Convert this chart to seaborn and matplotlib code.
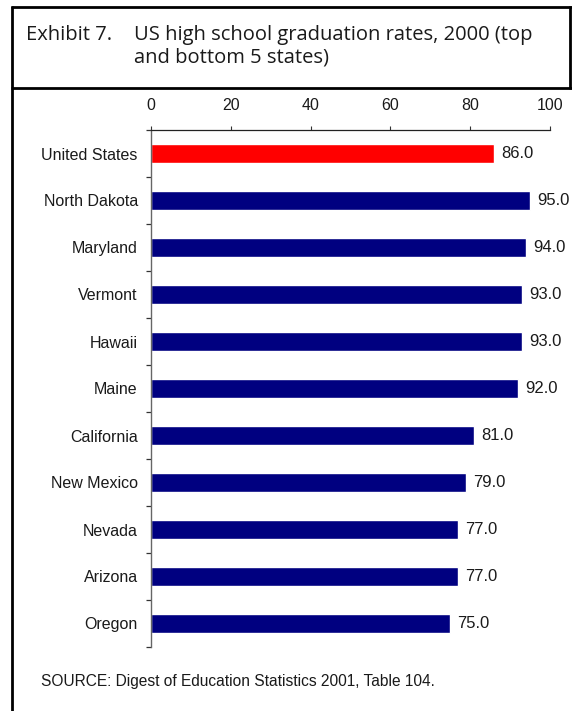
import matplotlib
matplotlib.use("Agg")
import matplotlib.pyplot as plt
import seaborn as sns
import pandas as pd
from matplotlib.lines import Line2D
from matplotlib.ticker import FixedLocator

# Dados
estados = ["United States", "North Dakota", "Maryland", "Vermont", "Hawaii", "Maine",
           "California", "New Mexico", "Nevada", "Arizona", "Oregon"]
taxas = [86.0, 95.0, 94.0, 93.0, 93.0, 92.0, 81.0, 79.0, 77.0, 77.0, 75.0]
x_ticks = [0, 20, 40, 60, 80, 100]

df = pd.DataFrame({"estado": estados, "taxa": taxas})
cores = {e: ("#FF0000" if e == "United States" else "#000080") for e in estados}

sns.set_style("white")
plt.rcParams["font.family"] = ["Liberation Sans", "DejaVu Sans"]

W, H = 572, 711
fig = plt.figure(figsize=(W / 100, H / 100), dpi=100)
ax = fig.add_axes([151 / W, 1 - 647 / H, 399 / W, 517 / H])

sns.barplot(data=df, x="taxa", y="estado", hue="estado", palette=cores,
            order=estados, legend=False, width=0.41, saturation=1, ax=ax)

# Rótulos de valor
for i, v in enumerate(taxas):
    ax.text(v + 1.8, i, f"{v:.1f}", va="center", ha="left", fontsize=12, color="#1a1a1a")

ax.set_xlim(0, 100)
ax.set_ylim(10.5, -0.5)
ax.set_xlabel("")
ax.set_ylabel("")
ax.set_xticks(x_ticks)
ax.tick_params(axis="x", top=True, labeltop=True, bottom=False, labelbottom=False,
               direction="out", length=3, width=0.8, color="#333333",
               labelsize=11.5, pad=9.5, labelcolor="#1a1a1a")
ax.tick_params(axis="y", which="major", left=True, length=0, labelsize=11.5, pad=9.5,
               labelcolor="#1a1a1a")
ax.yaxis.set_minor_locator(FixedLocator([i + 0.5 for i in range(-1, len(estados))]))
ax.tick_params(axis="y", which="minor", left=True, direction="out", length=3.5,
               width=0.9, color="#333333")

for s in ["bottom", "right"]:
    ax.spines[s].set_visible(False)
ax.spines["top"].set_color("#222222")
ax.spines["left"].set_color("#666666")
ax.spines["top"].set_linewidth(0.9)
ax.spines["left"].set_linewidth(1.0)

# Moldura
def linha(x0, y0, x1, y1, lw=2.0):
    fig.add_artist(Line2D([x0 / W, x1 / W], [1 - y0 / H, 1 - y1 / H],
                          color="black", lw=lw, solid_capstyle="butt"))

linha(11, 7, 572, 7)
linha(12, 6, 12, 711)
linha(570, 6, 570, 89)
linha(11, 88, 572, 88)

titulo_fonte = ["Open Sans", "DejaVu Sans"]
fig.text(26 / W, 1 - 40 / H, "Exhibit 7.", fontsize=14.5, va="baseline", ha="left",
         family=titulo_fonte, color="#1a1a1a")
fig.text(134 / W, 1 - 40 / H, "US high school graduation rates, 2000 (top",
         fontsize=14.5, va="baseline", ha="left", family=titulo_fonte, color="#1a1a1a")
fig.text(134 / W, 1 - 63 / H, "and bottom 5 states)",
         fontsize=14.5, va="baseline", ha="left", family=titulo_fonte, color="#1a1a1a")
fig.text(41 / W, 1 - 686 / H, "SOURCE: Digest of Education Statistics 2001, Table 104.",
         fontsize=11.2, va="baseline", ha="left", color="#1a1a1a")

plt.savefig("out.png", dpi=100)
